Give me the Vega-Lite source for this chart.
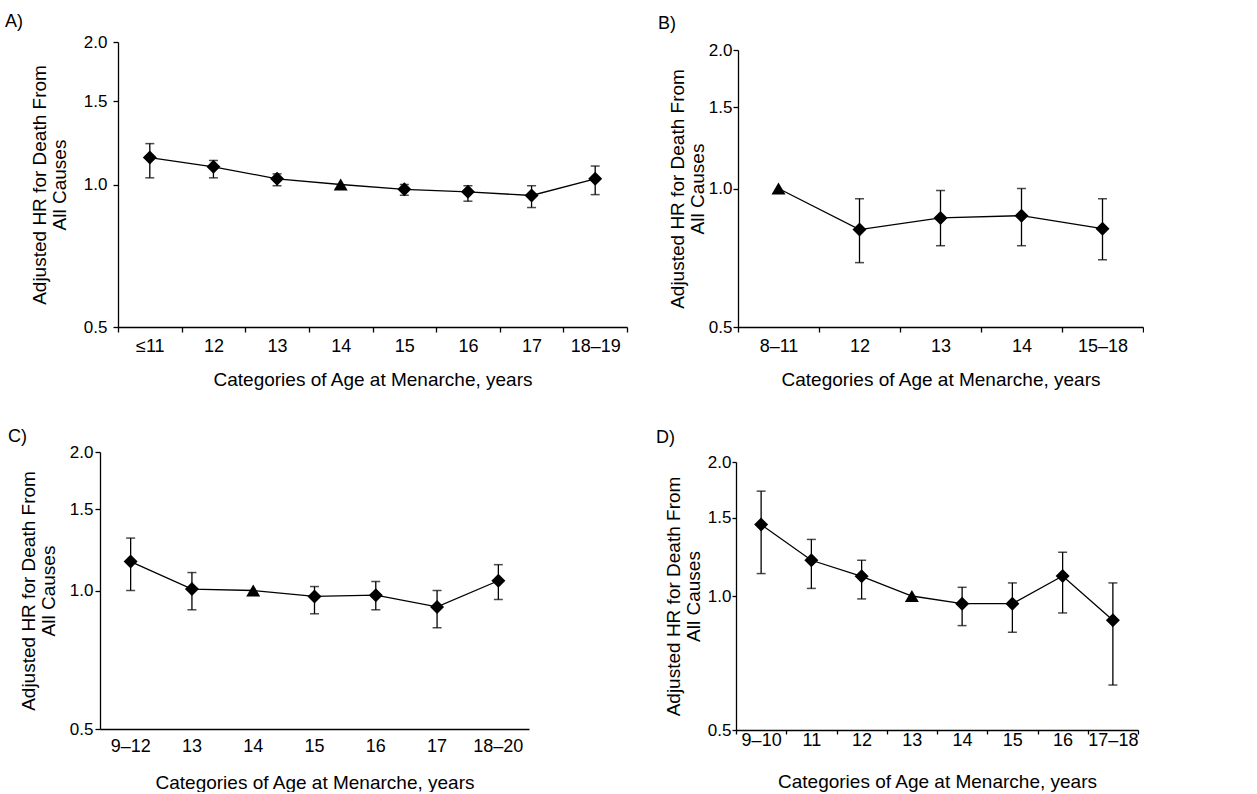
{
  "$schema": "https://vega.github.io/schema/vega-lite/v6.json",
  "padding": {"left": 5, "top": 13, "right": 0, "bottom": 0},
  "background": "white",
  "datasets": {
    "A": [
      {"cat": "≤11", "hr": 1.14, "lo": 1.033, "hi": 1.22, "marker": "diamond"},
      {"cat": "12", "hr": 1.09, "lo": 1.033, "hi": 1.124, "marker": "diamond"},
      {"cat": "13", "hr": 1.028, "lo": 0.994, "hi": 1.053, "marker": "diamond"},
      {"cat": "14", "hr": 1.0, "lo": null, "hi": null, "marker": "triangle"},
      {"cat": "15", "hr": 0.977, "lo": 0.949, "hi": 1.0, "marker": "diamond"},
      {"cat": "16", "hr": 0.965, "lo": 0.922, "hi": 0.994, "marker": "diamond"},
      {"cat": "17", "hr": 0.948, "lo": 0.894, "hi": 0.994, "marker": "diamond"},
      {"cat": "18–19", "hr": 1.028, "lo": 0.952, "hi": 1.094, "marker": "diamond"}
    ],
    "B": [
      {"cat": "8–11", "hr": 1.0, "lo": null, "hi": null, "marker": "triangle"},
      {"cat": "12", "hr": 0.814, "lo": 0.69, "hi": 0.95, "marker": "diamond"},
      {"cat": "13", "hr": 0.863, "lo": 0.751, "hi": 0.99, "marker": "diamond"},
      {"cat": "14", "hr": 0.873, "lo": 0.751, "hi": 1.0, "marker": "diamond"},
      {"cat": "15–18", "hr": 0.818, "lo": 0.70, "hi": 0.95, "marker": "diamond"}
    ],
    "C": [
      {"cat": "9–12", "hr": 1.156, "lo": 1.0, "hi": 1.30, "marker": "diamond"},
      {"cat": "13", "hr": 1.007, "lo": 0.908, "hi": 1.094, "marker": "diamond"},
      {"cat": "14", "hr": 1.0, "lo": null, "hi": null, "marker": "triangle"},
      {"cat": "15", "hr": 0.971, "lo": 0.89, "hi": 1.02, "marker": "diamond"},
      {"cat": "16", "hr": 0.977, "lo": 0.908, "hi": 1.046, "marker": "diamond"},
      {"cat": "17", "hr": 0.921, "lo": 0.83, "hi": 1.0, "marker": "diamond"},
      {"cat": "18–20", "hr": 1.05, "lo": 0.956, "hi": 1.138, "marker": "diamond"}
    ],
    "D": [
      {"cat": "9–10", "hr": 1.447, "lo": 1.123, "hi": 1.72, "marker": "diamond"},
      {"cat": "11", "hr": 1.203, "lo": 1.04, "hi": 1.34, "marker": "diamond"},
      {"cat": "12", "hr": 1.107, "lo": 0.985, "hi": 1.203, "marker": "diamond"},
      {"cat": "13", "hr": 1.0, "lo": null, "hi": null, "marker": "triangle"},
      {"cat": "14", "hr": 0.961, "lo": 0.858, "hi": 1.046, "marker": "diamond"},
      {"cat": "15", "hr": 0.961, "lo": 0.829, "hi": 1.07, "marker": "diamond"},
      {"cat": "16", "hr": 1.109, "lo": 0.916, "hi": 1.254, "marker": "diamond"},
      {"cat": "17–18", "hr": 0.882, "lo": 0.631, "hi": 1.07, "marker": "diamond"}
    ]
  },
  "vconcat": [
    {
      "spacing": 30,
      "hconcat": [
        {
          "width": 527, "height": 285,
          "title": {"text": "A)", "anchor": "start", "frame": "group", "dx": -95, "offset": 2},
          "data": {"name": "A"},
          "encoding": {
            "x": {"field": "cat", "type": "ordinal", "sort": null,
                  "scale": {"type": "band", "paddingInner": 0, "paddingOuter": 0, "range": [18, 527]},
                  "axis": {"title": "Categories of Age at Menarche, years", "labelAngle": 0, "tickBand": "extent", "tickSize": 5, "labelPadding": 5, "titlePadding": 15.5}},
            "y": {"field": "hr", "type": "quantitative",
                  "scale": {"type": "log", "domain": [0.5, 2], "nice": false, "zero": false},
                  "axis": {"offset": -18, "values": [0.5, 1, 1.5, 2], "format": ".1f", "title": ["Adjusted HR for Death From", "All Causes"], "tickSize": 5, "labelPadding": 6, "titlePadding": 14}}
          },
          "layer": [
            {"mark": {"type": "line", "color": "black", "strokeWidth": 1.3}},
            {"transform": [{"filter": "datum.lo != null"}], "mark": {"type": "rule", "color": "black", "strokeWidth": 1.3}, "encoding": {"y": {"field": "lo", "type": "quantitative"}, "y2": {"field": "hi"}}},
            {"transform": [{"filter": "datum.lo != null"}], "mark": {"type": "tick", "color": "black", "size": 9, "thickness": 1.5, "orient": "horizontal"}, "encoding": {"y": {"field": "lo", "type": "quantitative"}}},
            {"transform": [{"filter": "datum.lo != null"}], "mark": {"type": "tick", "color": "black", "size": 9, "thickness": 1.5, "orient": "horizontal"}, "encoding": {"y": {"field": "hi", "type": "quantitative"}}},
            {"mark": {"type": "point", "filled": true, "color": "black", "opacity": 1, "size": 196},
             "encoding": {"shape": {"field": "marker", "type": "nominal", "scale": {"domain": ["diamond", "triangle"], "range": ["diamond", "triangle-up"]}, "legend": null}}}
          ]
        },
        {
          "width": 405, "height": 285,
          "title": {"text": "B)", "anchor": "start", "frame": "group", "dx": -80, "offset": 8},
          "data": {"name": "B"},
          "encoding": {
            "x": {"field": "cat", "type": "ordinal", "sort": null,
                  "scale": {"type": "band", "paddingInner": 0, "paddingOuter": 0},
                  "axis": {"title": "Categories of Age at Menarche, years", "labelAngle": 0, "tickBand": "extent", "tickSize": 5, "labelPadding": 5, "titlePadding": 15.5}},
            "y": {"field": "hr", "type": "quantitative",
                  "scale": {"type": "log", "domain": [0.5, 2], "nice": false, "zero": false, "range": [285, 8]},
                  "axis": {"values": [0.5, 1, 1.5, 2], "format": ".1f", "title": ["Adjusted HR for Death From", "All Causes"], "tickSize": 5, "labelPadding": 1, "titlePadding": 1}}
          },
          "layer": [
            {"mark": {"type": "line", "color": "black", "strokeWidth": 1.3}},
            {"transform": [{"filter": "datum.lo != null"}], "mark": {"type": "rule", "color": "black", "strokeWidth": 1.3}, "encoding": {"y": {"field": "lo", "type": "quantitative"}, "y2": {"field": "hi"}}},
            {"transform": [{"filter": "datum.lo != null"}], "mark": {"type": "tick", "color": "black", "size": 9, "thickness": 1.5, "orient": "horizontal"}, "encoding": {"y": {"field": "lo", "type": "quantitative"}}},
            {"transform": [{"filter": "datum.lo != null"}], "mark": {"type": "tick", "color": "black", "size": 9, "thickness": 1.5, "orient": "horizontal"}, "encoding": {"y": {"field": "hi", "type": "quantitative"}}},
            {"mark": {"type": "point", "filled": true, "color": "black", "opacity": 1, "size": 196},
             "encoding": {"shape": {"field": "marker", "type": "nominal", "scale": {"domain": ["diamond", "triangle"], "range": ["diamond", "triangle-up"]}, "legend": null}}}
          ]
        }
      ]
    },
    {
      "spacing": 127,
      "hconcat": [
        {
          "width": 429, "height": 277,
          "title": {"text": "C)", "anchor": "start", "frame": "group", "dx": -92, "offset": -3},
          "data": {"name": "C"},
          "encoding": {
            "x": {"field": "cat", "type": "ordinal", "sort": null,
                  "scale": {"type": "band", "paddingInner": 0, "paddingOuter": 0},
                  "axis": {"title": "Categories of Age at Menarche, years", "labelAngle": 0, "ticks": false, "labelPadding": 8, "titlePadding": 18}},
            "y": {"field": "hr", "type": "quantitative",
                  "scale": {"type": "log", "domain": [0.5, 2], "nice": false, "zero": false},
                  "axis": {"values": [0.5, 1, 1.5, 2], "format": ".1f", "title": ["Adjusted HR for Death From", "All Causes"], "tickSize": 5, "labelPadding": 2, "titlePadding": 11}}
          },
          "layer": [
            {"mark": {"type": "line", "color": "black", "strokeWidth": 1.3}},
            {"transform": [{"filter": "datum.lo != null"}], "mark": {"type": "rule", "color": "black", "strokeWidth": 1.3}, "encoding": {"y": {"field": "lo", "type": "quantitative"}, "y2": {"field": "hi"}}},
            {"transform": [{"filter": "datum.lo != null"}], "mark": {"type": "tick", "color": "black", "size": 9, "thickness": 1.5, "orient": "horizontal"}, "encoding": {"y": {"field": "lo", "type": "quantitative"}}},
            {"transform": [{"filter": "datum.lo != null"}], "mark": {"type": "tick", "color": "black", "size": 9, "thickness": 1.5, "orient": "horizontal"}, "encoding": {"y": {"field": "hi", "type": "quantitative"}}},
            {"mark": {"type": "point", "filled": true, "color": "black", "opacity": 1, "size": 196},
             "encoding": {"shape": {"field": "marker", "type": "nominal", "scale": {"domain": ["diamond", "triangle"], "range": ["diamond", "triangle-up"]}, "legend": null}}}
          ]
        },
        {
          "width": 402, "height": 278,
          "title": {"text": "D)", "anchor": "start", "frame": "group", "dx": -80, "offset": 5},
          "data": {"name": "D"},
          "encoding": {
            "x": {"field": "cat", "type": "ordinal", "sort": null,
                  "scale": {"type": "band", "paddingInner": 0, "paddingOuter": 0},
                  "axis": {"title": "Categories of Age at Menarche, years", "labelAngle": 0, "tickBand": "extent", "tickSize": 4, "labelPadding": -2.5, "titlePadding": 23}},
            "y": {"field": "hr", "type": "quantitative",
                  "scale": {"type": "log", "domain": [0.5, 2], "nice": false, "zero": false, "range": [278, 10]},
                  "axis": {"values": [0.5, 1, 1.5, 2], "format": ".1f", "title": ["Adjusted HR for Death From", "All Causes"], "tickSize": 4, "labelPadding": 1, "titlePadding": 4}}
          },
          "layer": [
            {"mark": {"type": "line", "color": "black", "strokeWidth": 1.3}},
            {"transform": [{"filter": "datum.lo != null"}], "mark": {"type": "rule", "color": "black", "strokeWidth": 1.3}, "encoding": {"y": {"field": "lo", "type": "quantitative"}, "y2": {"field": "hi"}}},
            {"transform": [{"filter": "datum.lo != null"}], "mark": {"type": "tick", "color": "black", "size": 9, "thickness": 1.5, "orient": "horizontal"}, "encoding": {"y": {"field": "lo", "type": "quantitative"}}},
            {"transform": [{"filter": "datum.lo != null"}], "mark": {"type": "tick", "color": "black", "size": 9, "thickness": 1.5, "orient": "horizontal"}, "encoding": {"y": {"field": "hi", "type": "quantitative"}}},
            {"mark": {"type": "point", "filled": true, "color": "black", "opacity": 1, "size": 196},
             "encoding": {"shape": {"field": "marker", "type": "nominal", "scale": {"domain": ["diamond", "triangle"], "range": ["diamond", "triangle-up"]}, "legend": null}}}
          ]
        }
      ]
    }
  ],
  "spacing": 38,
  "config": {
    "font": "Liberation Sans",
    "view": {"stroke": null},
    "axis": {
      "grid": false,
      "domainColor": "black", "domainWidth": 1.3,
      "tickColor": "black", "tickWidth": 1.3,
      "labelColor": "black", "labelFont": "Liberation Sans", "labelFontSize": 17,
      "titleColor": "black", "titleFont": "Liberation Sans", "titleFontSize": 19, "titleFontWeight": "normal", "titleLineHeight": 20
    },
    "axisX": {"labelFontSize": 18, "titleFontSize": 19},
    "title": {"font": "Liberation Sans", "fontSize": 18, "fontWeight": "normal", "color": "black"}
  }
}
